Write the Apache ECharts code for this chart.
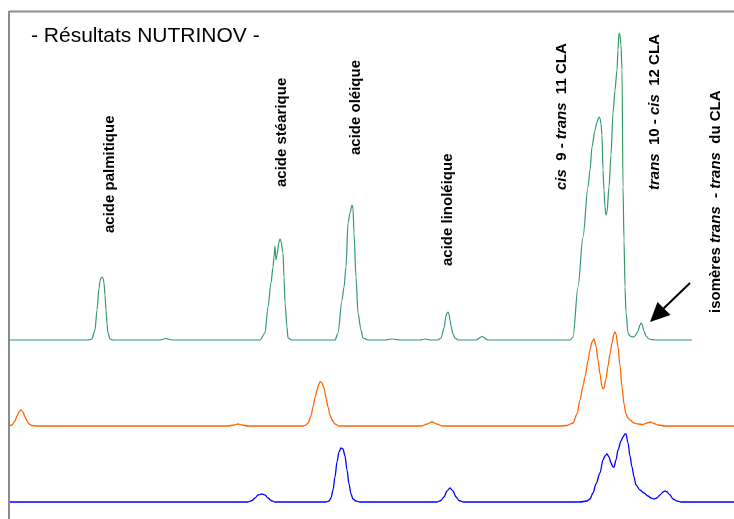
<!DOCTYPE html>
<html>
<head>
<meta charset="utf-8">
<script src="https://cdn.jsdelivr.net/npm/echarts@6/dist/echarts.min.js"></script>
<style>
html,body{margin:0;padding:0;background:#fff;}
#chart{width:734px;height:519px;}
</style>
</head>
<body>
<div id="chart"></div>
<script>
// Retention time (min) and signal above each trace's baseline (arbitrary units)
const greenTrace = [
[0.9,0],[8.8,0],[9.2,1],[9.5,10],[9.7,30],[9.9,52],[10.0,59],[10.1,62],[10.2,63],[10.3,62],[10.4,57],[10.5,45],[10.6,30],[10.7,16],[10.8,7],[11.0,1],[11.3,0],
[16.0,0],[16.6,1.5],[17.2,0],
[26.0,0],[26.5,7],[26.8,33],[27.1,57],[27.3,73],[27.4,83],[27.5,94],[27.6,80],[27.7,85],[27.9,98],[28.0,101],[28.1,99],[28.3,87],[28.4,63],[28.5,37],[28.7,13],[28.8,2],[29.2,0],
[33.5,0],[33.8,7],[34.2,40],[34.4,53],[34.6,73],[34.8,117],[35.0,127],[35.2,135],[35.3,132],[35.4,107],[35.6,63],[35.8,27],[36.1,10],[36.3,2],[36.8,0],
[38.5,0],[39.2,1],[40.0,0],[42.0,0],[42.5,1],[43.0,0],
[43.8,0],[44.1,2],[44.4,12],[44.6,24],[44.7,27],[44.8,28],[44.9,26],[45.0,20],[45.1,14],[45.3,6],[45.5,2],[45.8,0],
[47.6,0],[48.2,3.5],[48.8,0],
[57.0,0],[57.3,3],[57.8,53],[58.3,103],[58.8,153],[59.0,170],[59.2,193],[59.5,210],[59.7,218],[59.9,223],[60.0,222],[60.1,216],[60.2,205],[60.3,170],[60.4,150],[60.5,133],[60.6,125],[60.7,128],[60.9,153],[61.1,185],[61.3,227],[61.5,250],[61.7,270],[61.8,290],[61.9,307],[62.0,305],[62.1,295],[62.2,270],[62.3,153],[62.4,100],[62.5,53],[62.6,28],[62.8,7],[63.0,4],[63.3,3],[63.5,4],[63.8,9],[64.0,15],[64.1,17],[64.2,16],[64.4,9],[64.6,4],[64.9,1],[65.5,0],[69.2,0]
];
const orangeTrace = [
[0.9,0],[1.2,1],[1.5,5],[1.7,10],[1.9,14],[2.1,16],[2.3,14],[2.5,9],[2.7,5],[2.9,2],[3.2,0.5],[3.6,0],
[22.8,0],[23.4,1],[23.8,2],[24.2,1],[24.8,0],
[30.3,0],[30.6,1],[30.8,3],[31.1,10],[31.3,19],[31.5,28],[31.7,36],[31.9,42],[32.0,44],[32.1,44],[32.2,43],[32.4,38],[32.6,28],[32.8,19],[33.0,11],[33.2,6],[33.5,2],[33.9,0],
[42.2,0],[42.7,2],[43.2,4],[43.7,2],[44.2,0],
[56.0,0],[56.7,0.5],[57.3,3],[57.7,12],[58.0,26],[58.3,40],[58.5,49],[58.8,65],[59.0,76],[59.2,84],[59.4,87],[59.6,80],[59.8,66],[60.0,52],[60.2,39],[60.3,37],[60.4,38],[60.6,47],[60.8,60],[61.0,72],[61.2,83],[61.4,92],[61.5,94],[61.6,92],[61.8,79],[62.0,60],[62.2,39],[62.4,22],[62.6,12],[62.8,8],[63.0,6],[63.4,3],[63.8,2],[64.3,1.5],[64.7,3],[65.0,4],[65.4,2.5],[65.8,1],[66.5,0],[73.4,0]
];
const blueTrace = [
[0.9,0],[24.8,0],[25.2,1.5],[25.5,4],[25.8,7],[26.2,8],[26.5,7],[26.8,4],[27.1,1.5],[27.5,0],
[32.6,0],[32.9,1],[33.1,4],[33.3,12],[33.5,25],[33.7,40],[33.9,50],[34.1,54],[34.3,53],[34.5,46],[34.7,32],[34.9,18],[35.1,8],[35.3,3],[35.6,1],[36.0,0],
[43.7,0],[44.1,1.5],[44.4,5],[44.7,11],[45.0,14],[45.3,11],[45.6,5],[45.9,1.5],[46.3,0],
[58.0,0],[58.7,1],[59.0,3],[59.3,9],[59.6,18],[60.0,29],[60.3,42],[60.5,46],[60.7,48],[60.9,45],[61.1,39],[61.3,35],[61.4,35],[61.6,42],[61.8,52],[62.1,61],[62.3,65],[62.5,68],[62.6,68],[62.8,59],[63.0,46],[63.2,35],[63.4,25],[63.6,17],[64.0,12],[64.4,9],[64.8,6],[65.1,4],[65.4,3],[65.7,4],[66.0,7],[66.3,10],[66.5,11],[66.7,10],[67.0,7],[67.3,3],[67.7,1],[68.1,0],[73.4,0]
];
const titleText = '- Résultats NUTRINOV -';
const peakLabels = [
  '{b|acide palmitique}',
  '{b|acide stéarique}',
  '{b|acide oléique}',
  '{b|acide linoléique}',
  '{i|cis}{b|  9 - }{i|trans}{b|  11 CLA}',
  '{i|trans}{b|  10 - }{i|cis}{b|  12 CLA}',
  '{b|isomères }{i|trans}{b|  - }{i|trans}{b|  du CLA}'
];

// layout (pixels) and styles
const offsets = {green: 179, orange: 93, blue: 17};
const labelPos = [[110,233],[281.5,187],[355.5,155],[448,266],[561.5,190],[654.5,190],[716,313]];
const FONT = "'Liberation Sans', Arial, Helvetica, sans-serif";

function shift(arr, off){ return arr.map(p => [p[0], p[1] + off]); }

const chart = echarts.init(document.getElementById('chart'), null, {renderer:'canvas'});
const rich = {
  b: {fontFamily: FONT, fontSize: 15, fontWeight: 'bold', fill: '#000', color:'#000'},
  i: {fontFamily: FONT, fontSize: 15, fontWeight: 'bold', fontStyle: 'italic', fill: '#000', color:'#000'}
};
const graphics = [
  {type:'line', shape:{x1:9, y1:11.5, x2:740, y2:11.5}, style:{stroke:'#8c8c8c', lineWidth:2}, z:10},
  {type:'line', shape:{x1:9, y1:11, x2:9, y2:525}, style:{stroke:'#8c8c8c', lineWidth:2}, z:10},
  {type:'text', x:31, y:26, style:{text:titleText, font:"21px "+FONT, fill:'#000', textAlign:'left', textVerticalAlign:'top'}, z:10},
  {type:'line', shape:{x1:690, y1:283, x2:663, y2:309}, style:{stroke:'#000', lineWidth:2}, z:10},
  {type:'polygon', shape:{points:[[650,322],[657.5,302],[670.5,315]]}, style:{fill:'#000'}, z:10}
];
peakLabels.forEach((t, k) => {
  graphics.push({type:'text', x:labelPos[k][0], y:labelPos[k][1], rotation:Math.PI/2,
    style:{text:t, rich:rich, textAlign:'left', textVerticalAlign:'middle', fontFamily: FONT, fontSize:15, fontWeight:'bold', fill:'#000'}, z:10});
});

const common = {type:'line', showSymbol:false, smooth:0.3, smoothMonotone:'x', animation:false, silent:true};
chart.setOption({
  animation:false,
  grid:{left:0, right:0, top:0, bottom:0},
  xAxis:{type:'value', min:0, max:73.4, show:false},
  yAxis:{type:'value', min:0, max:519, show:false},
  series:[
    Object.assign({}, common, {name:'NUTRINOV', data:shift(greenTrace, offsets.green), lineStyle:{color:'#339966', width:1.2}}),
    Object.assign({}, common, {name:'B', data:shift(orangeTrace, offsets.orange), lineStyle:{color:'#ff6600', width:1.3}}),
    Object.assign({}, common, {name:'C', data:shift(blueTrace, offsets.blue), lineStyle:{color:'#0000ff', width:1.3}})
  ],
  graphic: graphics
});
</script>
</body>
</html>
